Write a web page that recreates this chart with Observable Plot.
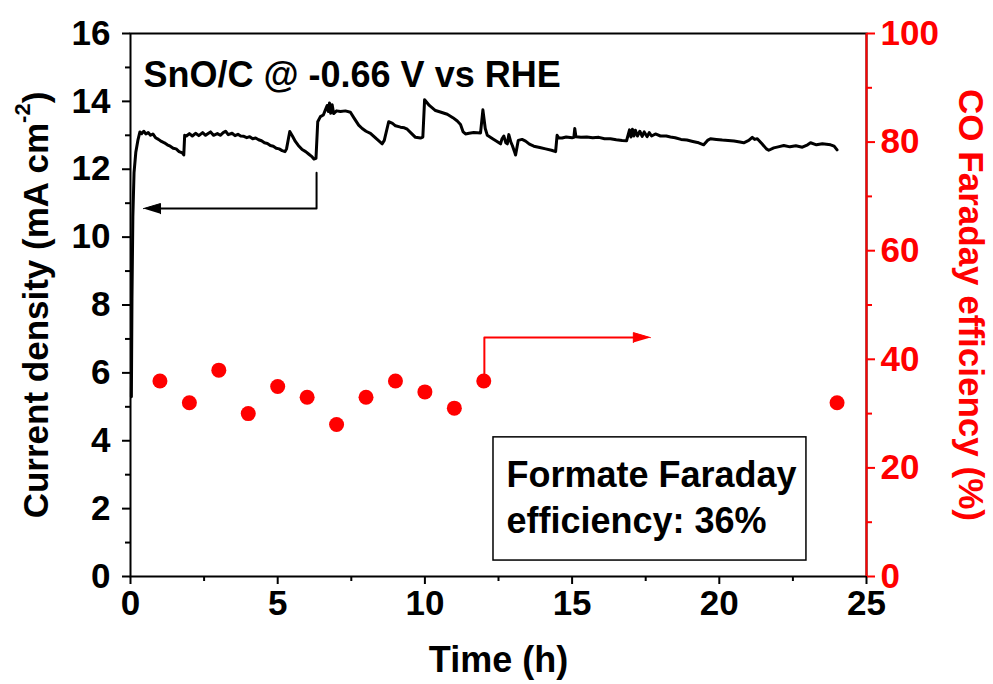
<!DOCTYPE html>
<html>
<head>
<meta charset="utf-8">
<script src="https://cdn.jsdelivr.net/npm/d3@7"></script>
<script src="https://cdn.jsdelivr.net/npm/@observablehq/plot@0.6"></script>
<style>
  html, body { margin: 0; padding: 0; background: #fff; }
</style>
</head>
<body>
<div id="chart"></div>
<script>
// ---- Data ----
const time = [0.03,0.05,0.08,0.12,0.18,0.25,0.32,0.38,0.45,0.52,0.6,0.68,0.76,0.85,0.95,1.05,1.15,1.25,1.35,1.45,1.55,1.65,1.76,1.81,1.84,1.9,2.0,2.1,2.21,2.32,2.45,2.55,2.65,2.72,2.82,2.95,3.05,3.15,3.23,3.32,3.45,3.55,3.65,3.74,3.85,3.95,4.05,4.15,4.25,4.35,4.45,4.55,4.65,4.75,4.85,4.95,5.05,5.15,5.25,5.3,5.41,5.5,5.6,5.7,5.83,5.95,6.05,6.15,6.23,6.3,6.36,6.45,6.55,6.62,6.68,6.72,6.76,6.8,6.85,6.9,7.0,7.13,7.3,7.47,7.6,7.75,7.87,8.0,8.15,8.35,8.55,8.62,8.77,8.9,9.0,9.17,9.3,9.4,9.55,9.68,9.85,9.93,9.99,10.15,10.36,10.55,10.76,10.95,11.1,11.21,11.3,11.38,11.5,11.66,11.89,11.97,12.05,12.12,12.3,12.45,12.57,12.62,12.68,12.75,12.8,12.85,12.92,12.97,13.05,13.08,13.17,13.3,13.42,13.55,13.7,13.9,14.1,14.3,14.44,14.49,14.55,14.66,14.8,15.0,15.06,15.09,15.13,15.3,15.5,15.7,15.91,16.1,16.3,16.5,16.7,16.85,16.95,17.0,17.05,17.1,17.15,17.22,17.3,17.38,17.45,17.55,17.62,17.7,17.83,18.0,18.2,18.34,18.5,18.7,18.9,19.1,19.3,19.47,19.6,19.7,19.9,20.1,20.3,20.5,20.7,20.83,21.0,21.12,21.2,21.29,21.45,21.6,21.68,21.85,22.0,22.19,22.4,22.6,22.82,23.0,23.1,23.3,23.5,23.78,23.9,24.0];
const current = [5.3,8.2,10.6,11.9,12.5,12.85,13.1,13.05,13.12,13.04,13.08,13.0,13.04,12.93,12.88,12.82,12.78,12.72,12.68,12.62,12.6,12.52,12.48,12.42,13.0,12.98,13.05,12.98,13.06,12.99,13.08,13.0,13.06,13.1,13.0,13.05,13.0,13.08,13.12,13.02,13.06,12.99,13.03,12.98,12.97,12.93,12.96,12.9,12.92,12.87,12.84,12.78,12.76,12.7,12.68,12.62,12.6,12.55,12.52,12.6,13.11,12.98,12.82,12.7,12.58,12.52,12.45,12.38,12.3,12.32,13.4,13.55,13.6,13.75,13.88,13.7,13.95,13.65,13.9,13.64,13.72,13.7,13.72,13.68,13.5,13.3,13.2,13.12,13.06,12.9,12.75,12.85,13.4,13.35,13.28,13.24,13.22,13.18,13.05,12.94,12.92,12.95,14.05,13.88,13.73,13.68,13.62,13.52,13.42,13.32,13.1,13.04,13.06,13.08,13.07,13.75,13.2,13.0,12.9,12.82,12.75,12.9,12.98,12.78,12.75,13.02,12.8,12.7,12.5,12.42,12.85,12.88,12.83,12.74,12.68,12.64,12.6,12.56,12.52,13.0,12.92,12.92,12.95,12.93,12.94,13.2,12.96,12.94,12.95,12.93,12.94,12.9,12.9,12.87,12.85,12.84,13.16,12.95,13.18,12.98,13.15,12.98,13.12,12.97,13.1,12.96,13.08,12.98,13.04,12.98,12.98,12.95,12.93,12.88,12.86,12.82,12.78,12.72,12.85,12.9,12.88,12.86,12.85,12.83,12.8,12.78,12.85,12.94,12.88,12.9,12.75,12.6,12.56,12.63,12.66,12.7,12.66,12.69,12.65,12.72,12.78,12.72,12.75,12.72,12.68,12.57];

const feTime = [1,2,3,4,5,6,7,8,9,10,11,12,24];
const feValue = [36,32,38,30,35,33,28,33,36,34,31,36,32];

const leftTicks = [0,2,4,6,8,10,12,14,16];
const leftMinor = [1,3,5,7,9,11,13,15];
const bottomTicks = [0,5,10,15,20,25];
const bottomMinor = [2.5,7.5,12.5,17.5,22.5];
const rightTicks = [0,20,40,60,80,100];
const rightMinor = [10,30,50,70,90];

const titleText = "SnO/C @ -0.66 V vs RHE";
const boxLines = ["Formate Faraday", "efficiency: 36%"];
const xLabel = "Time (h)";
const yLabel = "Current density (mA cm";
const y2Label = "CO Faraday efficiency (%)";

// ---- Build ----
const k = 16 / 100; // right-axis (%) -> left-axis units
const curve = time.map((t, i) => ({t, j: current[i]}));
const fePts = feTime.map((t, i) => ({t, v: feValue[i] * k}));

const blackArrow = [{t: 6.32, y: 11.9}, {t: 6.32, y: 10.84}, {t: 0.9, y: 10.84}];
const blackHead = [{t: 0.44, y: 10.84}, {t: 1.02, y: 10.99}, {t: 1.02, y: 10.69}];
const redArrow = [{t: 12.02, y: 36.8 * k}, {t: 12.02, y: 44 * k}, {t: 17.2, y: 44 * k}];
const redHead = [{t: 17.66, y: 44 * k}, {t: 17.08, y: 44.92 * k}, {t: 17.08, y: 43.08 * k}];

const FONT = "'Liberation Sans', Arial, sans-serif";
const TICK_FS = 35;
const LABEL_FS = 35;

const plot = Plot.plot({
  width: 993,
  height: 684,
  marginLeft: 130,
  marginRight: 127,
  marginTop: 33,
  marginBottom: 108,
  x: {domain: [0, 25]},
  y: {domain: [0, 16]},
  style: {fontFamily: FONT, fontWeight: "bold", fontSize: TICK_FS + "px", color: "black", background: "white", overflow: "visible"},
  marks: [
    Plot.frame({stroke: "black", strokeWidth: 2}),
    Plot.ruleX([25], {stroke: "red", strokeWidth: 2}),
    Plot.axisY(leftTicks, {anchor: "left", tickSize: 8, tickPadding: 12, strokeWidth: 2, label: null, fontSize: TICK_FS, tickFormat: d => String(d)}),
    Plot.axisY(leftMinor, {anchor: "left", tickSize: 5, strokeWidth: 2, label: null, tickFormat: () => ""}),
    Plot.axisX(bottomTicks, {anchor: "bottom", tickSize: 8, tickPadding: 6, strokeWidth: 2, label: null, fontSize: TICK_FS, tickFormat: d => String(d)}),
    Plot.axisX(bottomMinor, {anchor: "bottom", tickSize: 5, strokeWidth: 2, label: null, tickFormat: () => ""}),
    Plot.axisY(rightTicks.map(v => v * k), {anchor: "right", tickSize: 8, tickPadding: 6, strokeWidth: 2, stroke: "red", fill: "red", label: null, fontSize: TICK_FS, tickFormat: d => String(Math.round(d / k))}),
    Plot.axisY(rightMinor.map(v => v * k), {anchor: "right", tickSize: 5, strokeWidth: 2, stroke: "red", label: null, tickFormat: () => ""}),
    Plot.line(curve, {x: "t", y: "j", stroke: "black", strokeWidth: 3}),
    Plot.dot(fePts, {x: "t", y: "v", r: 7.5, fill: "red", stroke: "none"}),
    Plot.line(blackArrow, {x: "t", y: "y", stroke: "black", strokeWidth: 2}),
    Plot.line(blackHead, {x: "t", y: "y", fill: "black", stroke: "black", strokeWidth: 1}),
    Plot.line(redArrow, {x: "t", y: "y", stroke: "red", strokeWidth: 2}),
    Plot.line(redHead, {x: "t", y: "y", fill: "red", stroke: "red", strokeWidth: 1}),
    Plot.rect([{a: 12.33, b: 22.96, c: 0.47, d: 4.10}], {x1: "a", x2: "b", y1: "c", y2: "d", fill: "none", stroke: "black", strokeWidth: 1.5}),
    Plot.text(boxLines, {x: () => 12.77, y: (d, i) => i === 0 ? 2.99 : 1.61, text: d => d, textAnchor: "start", lineAnchor: "middle", fontSize: 36, fill: "black"}),
    Plot.text([titleText], {x: () => 0.44, y: () => 14.75, text: d => d, textAnchor: "start", lineAnchor: "middle", fontSize: 36, fill: "black"}),
    Plot.text([xLabel], {frameAnchor: "bottom", dy: 84, text: d => d, textAnchor: "middle", lineAnchor: "middle", fontSize: 36, fill: "black"}),
    Plot.text([y2Label], {frameAnchor: "right", dx: 104, rotate: 90, text: d => d, textAnchor: "middle", lineAnchor: "middle", fontSize: LABEL_FS, fill: "red"})
  ]
});

// Left axis label with superscript
const svg = d3.select(plot);
const lab = svg.append("text")
  .attr("transform", "translate(35,305) rotate(-90)")
  .attr("text-anchor", "middle")
  .attr("dominant-baseline", "central")
  .attr("font-family", FONT)
  .attr("font-weight", "bold")
  .attr("font-size", LABEL_FS)
  .attr("fill", "black");
lab.append("tspan").text(yLabel);
lab.append("tspan").attr("dy", -13).attr("font-size", 22).text("-2");
lab.append("tspan").attr("dy", 13).attr("font-size", LABEL_FS).text(")");

document.getElementById("chart").appendChild(plot);
</script>
</body>
</html>
